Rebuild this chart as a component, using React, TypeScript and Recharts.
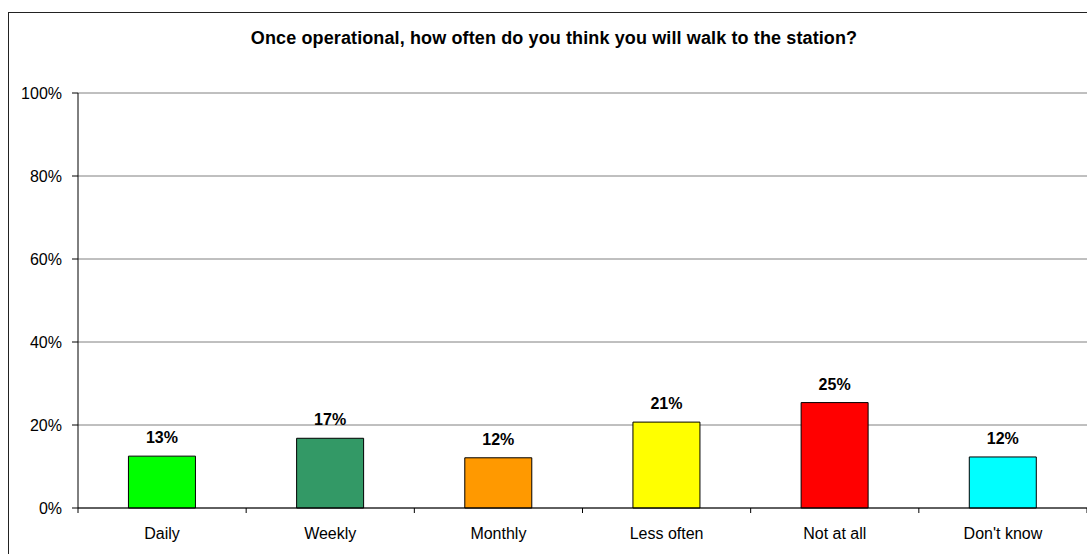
import React from "react";
import { BarChart, Bar, XAxis, YAxis, CartesianGrid, Cell, LabelList } from "recharts";

const categories = ["Daily", "Weekly", "Monthly", "Less often", "Not at all", "Don't know"];
const values = [12.5, 16.8, 12.1, 20.7, 25.4, 12.3];
const labels = ["13%", "17%", "12%", "21%", "25%", "12%"];
const colors = ["#00FF00", "#339966", "#FF9900", "#FFFF00", "#FF0000", "#00FFFF"];
const yTicks = [0, 20, 40, 60, 80, 100];

const data = categories.map((c, i) => ({ name: c, value: values[i], label: labels[i] }));

const W = 1087;
const H = 554;
const LEFT = 78;
const TOP = 93;
const BOTTOM = 46;
const BAND = (W - LEFT) / categories.length;
const FONT = "'Liberation Sans', Arial, sans-serif";

const XTick = (props: any) => {
  const { x, y, payload, index } = props;
  const left = x - BAND / 2;
  const right = x + BAND / 2;
  return (
    <g>
      <line x1={left} x2={left} y1={y} y2={y + 5} stroke="#000" />
      {index === categories.length - 1 && (
        <line x1={right} x2={right} y1={y} y2={y + 5} stroke="#000" />
      )}
      <text x={x} y={y + 31} textAnchor="middle" fontSize={16} fontFamily={FONT} fill="#000">
        {payload.value}
      </text>
    </g>
  );
};

export default function App() {
  return (
    <div style={{ position: "relative", width: W, height: H, overflow: "hidden", background: "#fff" }}>
      <style>{"body{margin:0}"}</style>
      <div
        style={{
          position: "absolute",
          left: 8,
          top: 12,
          width: W + 20,
          height: H + 20,
          borderLeft: "1px solid #222",
          borderTop: "1px solid #222",
        }}
      />
      <div
        style={{
          position: "absolute",
          left: 0,
          width: 1108,
          top: 28,
          textAlign: "center",
          fontFamily: FONT,
          fontWeight: "bold",
          fontSize: 18,
          letterSpacing: 0.12,
          whiteSpace: "nowrap",
          color: "#000",
        }}
      >
        Once operational, how often do you think you will walk to the station?
      </div>
      <div style={{ position: "absolute", left: 0, top: 0 }}>
        <BarChart
          width={W}
          height={H}
          data={data}
          margin={{ top: TOP, right: 0, left: 0, bottom: 0 }}
          barCategoryGap="30%"
        >
          <CartesianGrid horizontal vertical={false} stroke="#808080" />
          <XAxis
            dataKey="name"
            height={BOTTOM}
            stroke="#000"
            tickLine={false}
            tickSize={0}
            tickMargin={0}
            tick={<XTick />}
            interval={0}
          />
          <YAxis
            width={LEFT}
            domain={[0, 100]}
            ticks={yTicks}
            stroke="#000"
            tickSize={6}
            tickMargin={10}
            tickFormatter={(v: number) => `${v}%`}
            tick={{ fontSize: 16, fontFamily: FONT, fill: "#000" }}
            interval={0}
          />
          <Bar dataKey="value" isAnimationActive={false} stroke="#000" strokeWidth={1}>
            {data.map((d, i) => (
              <Cell key={d.name} fill={colors[i]} />
            ))}
            <LabelList
              dataKey="label"
              position="top"
              offset={13}
              style={{ fontSize: 16, fontWeight: "bold", fontFamily: FONT, fill: "#000" }}
            />
          </Bar>
        </BarChart>
      </div>
    </div>
  );
}
